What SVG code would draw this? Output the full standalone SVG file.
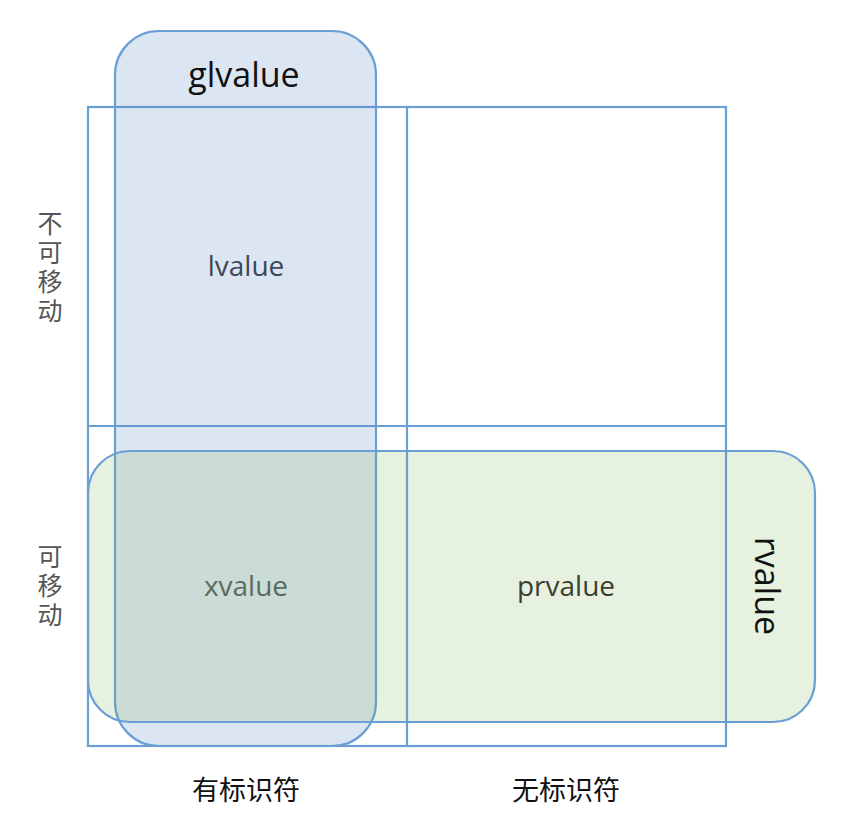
<svg xmlns="http://www.w3.org/2000/svg" width="843" height="825" viewBox="0 0 843 825">
<style>
.grid{fill:none;stroke:#6a9fd6;stroke-width:2.2}
.set{stroke:#6a9fd6;stroke-width:2.2}
.lat{font-family:"Open Sans","Liberation Sans",sans-serif;text-anchor:middle}
.cjk{font-family:"Noto Sans CJK SC",sans-serif;font-size:27px;text-anchor:middle}
.v{font-family:"Noto Sans CJK SC",sans-serif;font-size:25px;fill:#555555;writing-mode:vertical-rl;letter-spacing:4px}
</style>
<rect width="843" height="825" fill="#ffffff"/>
<g id="connectors">
<rect class="grid" x="88" y="107" width="638" height="639"/>
<line class="grid" x1="407" y1="107" x2="407" y2="746"/>
<line class="grid" x1="88" y1="426" x2="726" y2="426"/>
</g>
<g id="glvalue">
<rect class="set" x="115" y="31" width="261" height="715" rx="44" ry="44" fill="#4f81bd" fill-opacity="0.2"/>
<text class="lat" x="244" y="87" font-size="34" fill="#111111">glvalue</text>
</g>
<g id="rvalue">
<rect class="set" x="88" y="451" width="727" height="271" rx="42" ry="42" fill="#70ad47" fill-opacity="0.17"/>
<text class="lat" transform="translate(755,586) rotate(90)" x="0" y="0" font-size="34" fill="#111111">rvalue</text>
</g>
<g id="lvalue"><text class="lat" x="246" y="276" font-size="28" fill="#3d4858">lvalue</text></g>
<g id="xvalue"><text class="lat" x="246" y="596" font-size="28" fill="#5a6b60">xvalue</text></g>
<g id="prvalue"><text class="lat" x="566" y="596" font-size="28" fill="#3c3f30">prvalue</text></g>
<g id="row-immovable"><text class="v" x="50" y="211">不可移动</text></g>
<g id="row-movable"><text class="v" x="50" y="544">可移动</text></g>
<g id="col-identity"><text class="cjk" x="246" y="800" font-size="28" fill="#111111">有标识符</text></g>
<g id="col-noidentity"><text class="cjk" x="566" y="800" font-size="28" fill="#111111">无标识符</text></g>
</svg>
